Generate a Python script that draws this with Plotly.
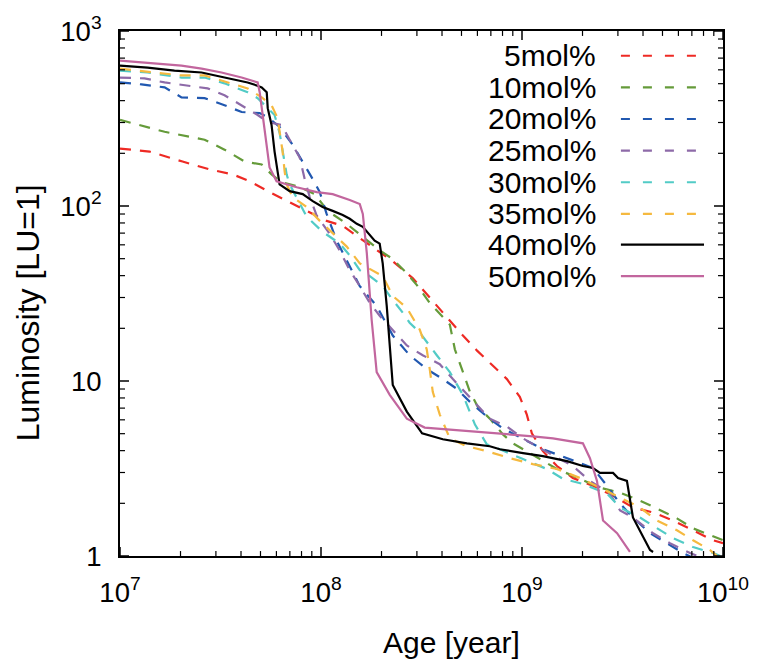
import plotly.graph_objects as go

# ---- data (log10 Age [year], log10 Luminosity [LU]) ----
labels = ["5mol%", "10mol%", "20mol%", "25mol%", "30mol%", "35mol%", "40mol%", "50mol%"]
colors = ["#ee2a24", "#659b3a", "#2158b0", "#8d6aa8", "#52cbc6", "#f5b93f", "#000000", "#c2669e"]
dashes = ["11px,9px"] * 6 + ["solid", "solid"]

logage_5 = [7.0, 7.147, 7.311, 7.446, 7.560, 7.646, 7.745, 7.829, 7.929, 8.028, 8.108, 8.183, 8.277, 8.357,
            8.456, 8.576, 8.706, 8.775, 8.855, 8.925, 8.989, 9.024, 9.049, 9.104, 9.174, 9.253, 9.353,
            9.453, 9.552, 9.652, 9.751, 9.851, 9.951, 10.0]
loglum_5 = [2.328, 2.311, 2.254, 2.209, 2.181, 2.141, 2.079, 2.028, 1.972, 1.915, 1.887, 1.825, 1.746, 1.684,
            1.588, 1.429, 1.260, 1.175, 1.090, 1.011, 0.910, 0.808, 0.701, 0.599, 0.514, 0.446, 0.401,
            0.345, 0.277, 0.249, 0.203, 0.147, 0.090, 0.073]

logage_10 = [7.0, 7.222, 7.421, 7.520, 7.620, 7.705, 7.754, 7.804, 7.884, 7.969, 8.033, 8.128, 8.292, 8.352,
             8.427, 8.477, 8.541, 8.641, 8.666, 8.706, 8.741, 8.780, 8.840, 8.905, 8.955, 9.039, 9.089,
             9.174, 9.253, 9.388, 9.488, 9.587, 9.672, 9.771, 9.851, 9.970, 10.0]
loglum_10 = [2.492, 2.424, 2.379, 2.322, 2.254, 2.237, 2.181, 2.136, 2.113, 2.068, 1.972, 1.898, 1.746, 1.701,
             1.616, 1.548, 1.446, 1.322, 1.181, 1.051, 0.938, 0.853, 0.785, 0.695, 0.644, 0.588, 0.554,
             0.497, 0.458, 0.390, 0.362, 0.316, 0.271, 0.215, 0.158, 0.107, 0.090]

logage_20 = [7.0, 7.107, 7.222, 7.306, 7.421, 7.520, 7.605, 7.695, 7.735, 7.794, 7.859, 7.909, 7.959, 7.994,
             8.028, 8.078, 8.143, 8.193, 8.277, 8.357, 8.441, 8.526, 8.606, 8.676, 8.741, 8.825, 8.905,
             9.005, 9.104, 9.289, 9.353, 9.423, 9.488, 9.552, 9.637, 9.721, 9.801, 9.85]
loglum_20 = [2.706, 2.695, 2.678, 2.621, 2.616, 2.576, 2.537, 2.531, 2.508, 2.452, 2.350, 2.254, 2.153, 2.079,
             1.955, 1.802, 1.655, 1.542, 1.429, 1.260, 1.147, 1.068, 1.011, 0.955, 0.881, 0.797, 0.729,
             0.667, 0.610, 0.531, 0.503, 0.401, 0.299, 0.220, 0.130, 0.073, 0.017, -0.01]

logage_25 = [7.0, 7.122, 7.222, 7.336, 7.436, 7.520, 7.605, 7.685, 7.735, 7.804, 7.844, 7.894, 7.919, 7.944,
             7.979, 8.043, 8.093, 8.143, 8.193, 8.243, 8.292, 8.357, 8.427, 8.506, 8.591, 8.656, 8.726,
             8.775, 8.840, 8.925, 9.005, 9.089, 9.253, 9.338, 9.438, 9.488, 9.552, 9.652, 9.736, 9.836, 9.886]
loglum_25 = [2.734, 2.729, 2.706, 2.689, 2.672, 2.633, 2.576, 2.520, 2.480, 2.463, 2.379, 2.277, 2.153, 2.051,
             1.944, 1.842, 1.746, 1.633, 1.542, 1.446, 1.373, 1.294, 1.203, 1.147, 1.096, 1.011, 0.921,
             0.864, 0.785, 0.740, 0.672, 0.616, 0.514, 0.429, 0.356, 0.260, 0.220, 0.130, 0.073, 0.017, -0.006]

logage_30 = [7.0, 7.137, 7.306, 7.421, 7.520, 7.635, 7.685, 7.735, 7.769, 7.794, 7.809, 7.829, 7.844, 7.879,
             7.929, 8.008, 8.093, 8.143, 8.193, 8.243, 8.307, 8.357, 8.407, 8.441, 8.491, 8.576, 8.641,
             8.706, 8.741, 8.766, 8.825, 8.890, 9.005, 9.124, 9.204, 9.303, 9.423, 9.488, 9.587, 9.672,
             9.751, 9.851, 9.951, 9.986]
loglum_30 = [2.774, 2.763, 2.734, 2.734, 2.701, 2.650, 2.616, 2.559, 2.520, 2.418, 2.311, 2.181, 2.124, 2.051,
             1.938, 1.853, 1.785, 1.718, 1.633, 1.599, 1.542, 1.463, 1.390, 1.333, 1.277, 1.147, 1.051,
             0.921, 0.825, 0.751, 0.638, 0.610, 0.554, 0.497, 0.441, 0.412, 0.356, 0.277, 0.220, 0.158,
             0.102, 0.051, 0.017, 0.0]

logage_35 = [7.0, 7.137, 7.306, 7.421, 7.535, 7.635, 7.705, 7.754, 7.784, 7.794, 7.809, 7.819, 7.829, 7.859,
             7.929, 7.994, 8.058, 8.128, 8.193, 8.257, 8.307, 8.357, 8.427, 8.491, 8.526, 8.541, 8.556,
             8.591, 8.641, 8.726, 8.825, 8.940, 9.054, 9.174, 9.288, 9.388, 9.488, 9.587, 9.672, 9.771,
             9.851, 9.936, 9.970]
loglum_35 = [2.785, 2.768, 2.746, 2.746, 2.706, 2.672, 2.621, 2.576, 2.503, 2.424, 2.311, 2.198, 2.124, 2.051,
             1.994, 1.915, 1.842, 1.768, 1.672, 1.633, 1.599, 1.486, 1.418, 1.294, 1.181, 1.068, 0.938,
             0.808, 0.672, 0.627, 0.599, 0.559, 0.525, 0.497, 0.446, 0.390, 0.333, 0.277, 0.203, 0.147,
             0.090, 0.034, 0.0]

logage_40 = [7.0, 7.137, 7.271, 7.406, 7.520, 7.570, 7.635, 7.680, 7.705, 7.730, 7.735, 7.754, 7.769, 7.784,
             7.794, 7.844, 7.909, 7.959, 8.008, 8.058, 8.108, 8.143, 8.178, 8.208, 8.243, 8.267, 8.292,
             8.307, 8.327, 8.357, 8.427, 8.503, 8.606, 8.726, 8.840, 8.890, 9.005, 9.104, 9.224, 9.303,
             9.353, 9.388, 9.453, 9.478, 9.522, 9.552, 9.637, 9.652]
loglum_40 = [2.802, 2.791, 2.774, 2.763, 2.734, 2.723, 2.706, 2.689, 2.678, 2.650, 2.559, 2.463, 2.311, 2.198,
             2.124, 2.085, 2.068, 2.028, 1.994, 1.972, 1.949, 1.927, 1.898, 1.881, 1.831, 1.802, 1.785,
             1.672, 1.429, 0.977, 0.825, 0.701, 0.667, 0.644, 0.627, 0.610, 0.588, 0.571, 0.542, 0.514,
             0.503, 0.475, 0.475, 0.446, 0.429, 0.220, 0.034, 0.023]

logage_50 = [7.0, 7.137, 7.306, 7.406, 7.505, 7.605, 7.685, 7.695, 7.710, 7.729, 7.744, 7.779, 7.879, 7.979,
             8.058, 8.143, 8.193, 8.208, 8.228, 8.252, 8.277, 8.342, 8.427, 8.516, 8.641, 8.890, 9.054,
             9.154, 9.303, 9.338, 9.373, 9.403, 9.473, 9.537]
loglum_50 = [2.831, 2.819, 2.802, 2.785, 2.763, 2.734, 2.706, 2.650, 2.520, 2.350, 2.220, 2.141, 2.107, 2.079,
             2.068, 2.034, 2.011, 1.955, 1.729, 1.350, 1.051, 0.921, 0.785, 0.734, 0.723, 0.701, 0.684,
             0.672, 0.644, 0.559, 0.429, 0.203, 0.130, 0.023]

all_logage = [logage_5, logage_10, logage_20, logage_25, logage_30, logage_35, logage_40, logage_50]
all_loglum = [loglum_5, loglum_10, loglum_20, loglum_25, loglum_30, loglum_35, loglum_40, loglum_50]

# axis ranges (log10) and tick values
X_RANGE = [7, 10]
Y_RANGE = [0, 3]
x_major = [10 ** e for e in range(7, 11)]
y_major = [10 ** e for e in range(0, 4)]
x_minor = [m * 10 ** e for e in (7, 8, 9) for m in range(2, 10)]
y_minor = [m * 10 ** e for e in (0, 1, 2) for m in range(2, 10)]

FONT = "Liberation Sans, Arial, Helvetica, sans-serif"
W, H = 763, 661
MARGIN = dict(l=120, r=40, t=25, b=105)
PLOT_W = W - MARGIN["l"] - MARGIN["r"]
PLOT_H = H - MARGIN["t"] - MARGIN["b"]

fig = go.Figure()
for lab, col, dsh, xa, ya in zip(labels, colors, dashes, all_logage, all_loglum):
    fig.add_trace(go.Scatter(
        x=[10 ** v for v in xa], y=[10 ** v for v in ya], mode="lines", name=lab,
        line=dict(color=col, width=2.2, dash=dsh), showlegend=False,
    ))


def tick_trace(xvals, yvals, length_px, width):
    """Inward tick marks on all four sides, placed through the axes' own log scales."""
    dy = length_px / PLOT_H * (Y_RANGE[1] - Y_RANGE[0])
    dx = length_px / PLOT_W * (X_RANGE[1] - X_RANGE[0])
    xs, ys = [], []
    for v in xvals:
        xs += [v, v, None, v, v, None]
        ys += [10 ** Y_RANGE[0], 10 ** (Y_RANGE[0] + dy), None,
               10 ** Y_RANGE[1], 10 ** (Y_RANGE[1] - dy), None]
    for v in yvals:
        xs += [10 ** X_RANGE[0], 10 ** (X_RANGE[0] + dx), None,
               10 ** X_RANGE[1], 10 ** (X_RANGE[1] - dx), None]
        ys += [v, v, None, v, v, None]
    return go.Scatter(x=xs, y=ys, mode="lines", line=dict(color="black", width=width),
                      hoverinfo="skip", showlegend=False, connectgaps=False)


fig.add_trace(tick_trace(x_minor, y_minor, 5, 1.2))
fig.add_trace(tick_trace(x_major, y_major, 9, 1.5))

# tick labels: plotly's "power" format on log axes gives 1, 10, 10^2, 10^3 (font scaled x1.25)
axis_common = dict(
    type="log", dtick=1, exponentformat="power", showgrid=False, zeroline=False,
    showline=True, linecolor="black", linewidth=2, mirror=True, ticks="",
    tickfont=dict(family=FONT, size=22, color="black"), ticklabelstandoff=12,
)

annotations = [
    dict(text="Age [year]", x=0.55, y=-0.164, xref="paper", yref="paper", showarrow=False,
         xanchor="center", yanchor="middle", font=dict(family=FONT, size=30, color="black")),
    dict(text="Luminosity [LU=1]", x=-0.1535, y=0.463, xref="paper", yref="paper", showarrow=False,
         textangle=-90, xanchor="center", yanchor="middle", font=dict(family=FONT, size=32, color="black")),
]
shapes = []
leg_y = [0.9529, 0.8927, 0.8324, 0.7721, 0.7119, 0.6516, 0.5932, 0.5330]
for lab, col, dsh, ly in zip(labels, colors, dashes, leg_y):
    annotations.append(dict(text=lab, x=0.7925, y=ly, xref="paper", yref="paper", showarrow=False,
                            xanchor="right", yanchor="middle",
                            font=dict(family=FONT, size=30, color="black")))
    shapes.append(dict(type="line", xref="paper", yref="paper", x0=0.8307, x1=0.9685, y0=ly, y1=ly,
                       line=dict(color=col, width=2.2, dash=("9px,13px" if dsh != "solid" else "solid"))))

fig.update_layout(
    width=W, height=H, margin=MARGIN,
    paper_bgcolor="white", plot_bgcolor="white",
    font=dict(family=FONT, color="black"),
    xaxis=dict(range=X_RANGE, **axis_common),
    yaxis=dict(range=Y_RANGE, **axis_common),
    annotations=annotations, shapes=shapes,
)

fig.write_html("out.html")
